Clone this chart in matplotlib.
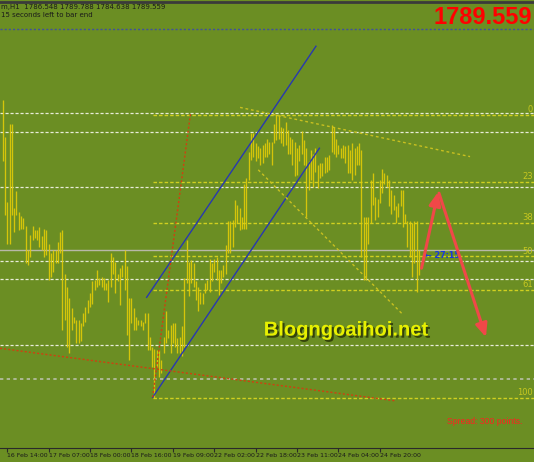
import matplotlib
matplotlib.use('Agg')
import matplotlib.pyplot as plt
import matplotlib.patheffects as pe
import numpy as np

# hourly gold bars (H1)
highs = [1814.6, 1808.4, 1797.6, 1810.6, 1810.6, 1796.5, 1799.3, 1795.9, 1795.2, 1794.8,
         1793.5, 1789.5, 1792.0, 1793.5, 1792.9, 1792.9, 1793.4, 1791.8, 1793.1, 1792.9,
         1790.6, 1789.0, 1789.5, 1789.5, 1790.9, 1792.6, 1792.9, 1785.6, 1783.4, 1781.5,
         1779.8, 1778.4, 1777.9, 1777.9, 1777.3, 1779.0, 1780.1, 1781.2, 1782.3, 1784.3,
         1784.5, 1786.2, 1784.8, 1785.1, 1784.8, 1784.0, 1784.5, 1789.0, 1788.4, 1787.6,
         1785.6, 1786.5, 1787.0, 1789.5, 1786.8, 1781.5, 1781.5, 1779.8, 1778.4, 1777.9,
         1777.9, 1777.6, 1779.0, 1779.0, 1775.1, 1773.4, 1773.1, 1772.9, 1772.9, 1771.2,
         1775.1, 1779.3, 1776.2, 1777.0, 1777.3, 1777.3, 1774.8, 1775.1, 1776.8, 1784.8,
         1791.2, 1787.6, 1787.9, 1787.3, 1784.3, 1783.4, 1782.6, 1782.3, 1784.0, 1784.5,
         1788.1, 1787.3, 1788.1, 1788.4, 1786.2, 1786.2, 1787.0, 1790.4, 1794.3, 1794.3,
         1794.5, 1797.9, 1797.0, 1796.5, 1795.1, 1800.6, 1801.5, 1805.9, 1809.0, 1809.0,
         1807.3, 1806.8, 1806.5, 1807.0, 1807.3, 1808.1, 1807.6, 1807.6, 1810.6, 1812.0,
         1812.0, 1810.1, 1809.8, 1810.9, 1809.5, 1808.4, 1808.1, 1807.6, 1806.5, 1807.0,
         1809.3, 1807.9, 1806.5, 1804.3, 1806.2, 1805.6, 1806.5, 1803.7, 1804.0, 1804.0,
         1805.1, 1805.1, 1805.4, 1810.4, 1810.1, 1808.1, 1807.0, 1806.5, 1807.0, 1806.8,
         1807.0, 1806.2, 1807.3, 1806.5, 1806.8, 1807.3, 1806.2, 1795.1, 1795.1, 1795.1,
         1801.2, 1802.3, 1798.4, 1798.1, 1801.2, 1803.1, 1802.3, 1802.0, 1801.2, 1799.5,
         1798.7, 1796.8, 1797.3, 1799.5, 1799.5, 1795.6, 1794.3, 1794.3, 1794.0, 1794.3,
         1794.3, 1789.5]
lows = [1804.3, 1795.4, 1790.6, 1790.6, 1795.4, 1792.6, 1795.4, 1792.9, 1793.1, 1793.1,
        1787.3, 1787.0, 1788.4, 1791.2, 1791.5, 1791.2, 1790.1, 1789.5, 1788.4, 1788.7,
        1784.5, 1785.1, 1785.9, 1787.3, 1787.3, 1789.0, 1776.2, 1777.9, 1773.4, 1772.3,
        1776.2, 1777.3, 1774.0, 1774.0, 1774.3, 1776.8, 1777.6, 1779.0, 1780.1, 1780.6,
        1782.9, 1783.4, 1783.7, 1783.4, 1782.9, 1782.9, 1780.9, 1783.4, 1785.6, 1782.3,
        1784.3, 1780.4, 1785.1, 1782.9, 1775.4, 1771.2, 1777.3, 1776.2, 1776.2, 1777.0,
        1776.8, 1776.2, 1777.3, 1772.9, 1772.9, 1770.1, 1764.9, 1770.1, 1768.4, 1769.0,
        1772.3, 1774.0, 1774.8, 1772.3, 1774.0, 1773.4, 1772.3, 1772.3, 1771.8, 1773.4,
        1784.0, 1781.8, 1784.0, 1783.4, 1781.2, 1779.3, 1780.6, 1780.6, 1782.3, 1782.9,
        1782.6, 1784.3, 1785.9, 1784.5, 1782.0, 1784.0, 1785.1, 1785.6, 1789.0, 1789.0,
        1790.1, 1793.4, 1794.0, 1792.9, 1793.1, 1793.1, 1793.1, 1801.2, 1804.5, 1805.1,
        1804.3, 1804.8, 1803.7, 1804.0, 1805.1, 1805.1, 1805.6, 1803.7, 1807.3, 1807.9,
        1808.1, 1807.3, 1806.8, 1807.0, 1805.6, 1805.6, 1803.7, 1801.8, 1802.0, 1804.3,
        1805.6, 1803.7, 1795.1, 1799.5, 1801.2, 1800.1, 1802.6, 1799.8, 1801.5, 1801.8,
        1802.3, 1802.6, 1802.9, 1805.9, 1805.6, 1805.1, 1805.6, 1804.8, 1804.8, 1804.0,
        1802.3, 1802.3, 1801.2, 1802.0, 1803.7, 1803.7, 1788.4, 1784.5, 1784.5, 1790.6,
        1794.0, 1797.0, 1794.5, 1795.1, 1797.3, 1799.0, 1800.6, 1800.1, 1796.8, 1795.6,
        1796.2, 1794.0, 1795.1, 1796.8, 1793.4, 1794.0, 1790.1, 1788.4, 1785.1, 1787.3,
        1782.6, 1785.4]

tick_bars = [2, 20, 38, 56, 74, 92, 110, 128, 146, 164]
tick_labels = ['16 Feb 14:00', '17 Feb 07:00', '18 Feb 00:00', '18 Feb 16:00', '19 Feb 09:00',
               '22 Feb 02:00', '22 Feb 18:00', '23 Feb 11:00', '24 Feb 04:00', '24 Feb 20:00']

# horizontal levels
white_levels = [1812.4, 1809.2, 1800.0, 1787.7, 1784.7, 1773.7]
gray_level = 1768.0
bid = 1789.559
ask_line = 1826.4

# fibonacci retracement: high -> low (labels as visible at the cut right edge)
fib_high = 1812.03
fib_low = 1764.9
fib_start = 65.2
fib_ratios = [0.0, 0.236, 0.382, 0.5, 0.618, 1.0]
fib_names = ['0', '23', '38', '50', '61', '100']

# trend lines (bar index, price)
channel_up = [(62.6, 1781.65), (136.2, 1823.5)]
channel_dn = [(65.2, 1764.98), (137.7, 1806.5)]
red_steep = [(65.2, 1765.0), (81.7, 1812.4)]
red_long = [(-1.2, 1773.15), (170.6, 1764.4)]
yel_res = [(103.2, 1813.3), (203.2, 1805.1)]
yel_diag = [(111.1, 1802.9), (174.2, 1778.7)]
arrow_up = [(182.1, 1786.5), (189.3, 1799.2)]
arrow_dn = [(189.7, 1799.0), (210.1, 1775.0)]

bg = '#6B8E23'
fig = plt.figure(figsize=(5.34, 4.62), dpi=100, facecolor=bg)
ax = fig.add_axes([0, 14 / 462, 1, 446 / 462], facecolor=bg)
ax.set_xlim(-1.17, 231.0)
ax.set_ylim(1756.53, 1830.87)

for s in ['left', 'right']:
    ax.spines[s].set_visible(False)
ax.spines['bottom'].set_color('#2a2a2a')
ax.spines['top'].set_color('#3a3a3a')
ax.spines['top'].set_linewidth(2)

# levels
for lv in white_levels:
    ax.axhline(lv, color='#e8ecd8', lw=0.9, dashes=(2.5, 1.5), zorder=1)
ax.axhline(gray_level, color='#b8c0a8', lw=1.2, dashes=(2, 2), zorder=1)
ax.axhline(ask_line, color='#4050a0', lw=1.0, dashes=(1.5, 1.5), zorder=1)
ax.axhline(bid, color='#b8b8a8', lw=1.0, zorder=1)

for r, nm in zip(fib_ratios, fib_names):
    lv = fib_high - r * (fib_high - fib_low)
    ax.plot([fib_start, 240], [lv, lv], color='#d0d020', lw=1.0, dashes=(2.5, 1.5), zorder=1)
    ax.text(230.4, lv + 0.15, nm, color='#c8c820', fontsize=6,
            va='bottom', ha='right')

# bars
x = np.arange(len(highs))
ax.vlines(x, lows, highs, colors='#e2cc08', lw=0.95, alpha=0.9, zorder=3)

# trend lines
def seg(p, **kw):
    ax.plot([p[0][0], p[1][0]], [p[0][1], p[1][1]], **kw)

seg(channel_up, color='#2838b0', lw=1.0, zorder=4)
seg(channel_dn, color='#2838b0', lw=1.0, zorder=4)
seg(red_steep, color='#d04010', lw=1.0, dashes=(1.5, 1.5), zorder=4)
seg(red_long, color='#d04010', lw=1.0, dashes=(1.5, 1.5), zorder=4)
seg(yel_res, color='#c8c020', lw=1.0, dashes=(2, 2), zorder=4)
seg(yel_diag, color='#c8c020', lw=1.0, dashes=(2, 2), zorder=4)

for a in [arrow_up, arrow_dn]:
    ax.annotate('', xy=a[1], xytext=a[0],
                arrowprops=dict(arrowstyle='-|>,head_length=0.8,head_width=0.35',
                                color='#f04848', lw=2.2, shrinkA=0, shrinkB=0), zorder=6)

# texts
ax.text(183.6, bid - 0.15, '\u2190 27:15', color='#1838e0', fontsize=5.8, fontweight='bold',
        va='top', ha='left', zorder=5)
ax.text(113.5, 1774.6, 'Blogngoaihoi.net', color='#e8f000', fontsize=14.5, fontweight='bold',
        family='Liberation Sans', ha='left', va='bottom', zorder=7,
        path_effects=[pe.withSimplePatchShadow(offset=(1.5, -1.5), shadow_rgbFace='#2e3a08', alpha=0.9)])
ax.text(193.0, 1760.2, 'Spread: 300 points.', color='#ff2020', fontsize=6.2,
        family='Liberation Sans', ha='left', va='bottom')

fig.text(1 / 534, 1 - 7 / 462, 'm,H1  1786.548 1789.788 1784.638 1789.559', color='#1a1a1a',
         fontsize=5, va='center', ha='left')
fig.text(1 / 534, 1 - 15 / 462, '15 seconds left to bar end', color='#1a1a1a',
         fontsize=5, va='center', ha='left')
fig.text(532 / 534, 1 - 18 / 462, '1789.559', color='#ff0000', fontsize=17, fontweight='bold',
         family='Liberation Sans', va='center', ha='right')

ax.set_yticks([])
ax.set_xticks(tick_bars)
ax.set_xticklabels(tick_labels, fontsize=4.5, color='#1a1a1a', ha='left')
ax.tick_params(axis='x', direction='out', length=3, width=0.8, color='#2a2a2a', pad=0.5)

plt.savefig('out.png', dpi=100, facecolor=bg)
